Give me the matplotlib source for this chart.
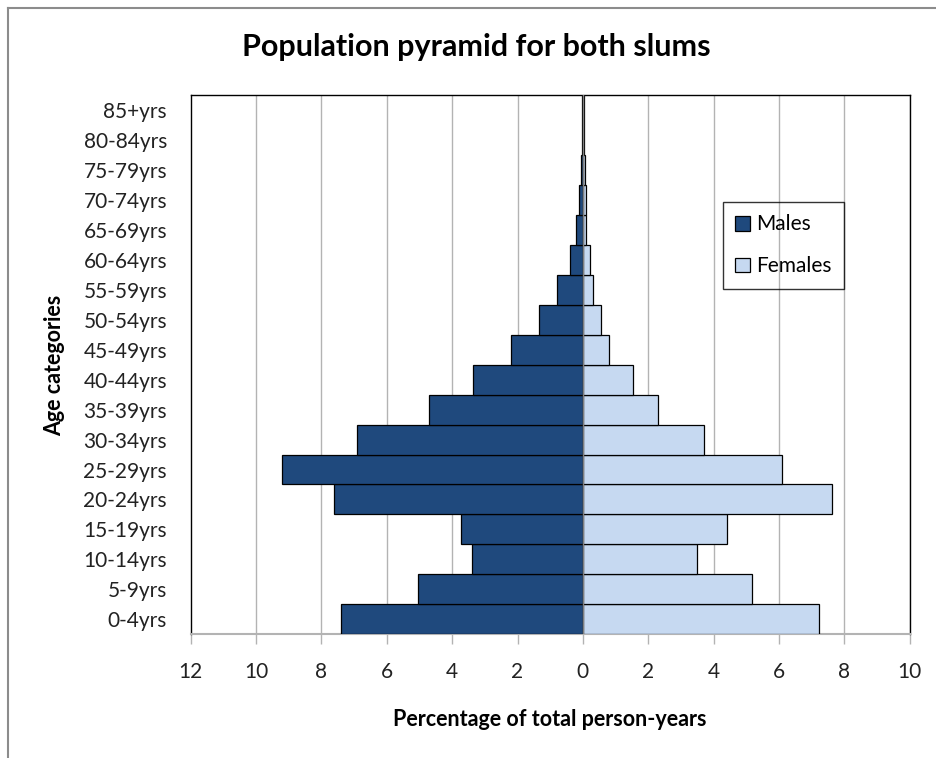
import matplotlib.pyplot as plt
from matplotlib.lines import Line2D
import numpy as np

plt.rcParams['font.family'] = ['Lato', 'DejaVu Sans']

# age groups, youngest first
age_groups = ['0-4yrs', '5-9yrs', '10-14yrs', '15-19yrs', '20-24yrs', '25-29yrs',
              '30-34yrs', '35-39yrs', '40-44yrs', '45-49yrs', '50-54yrs', '55-59yrs',
              '60-64yrs', '65-69yrs', '70-74yrs', '75-79yrs', '80-84yrs', '85+yrs']

# percentage of total person-years
males = [7.39, 5.05, 3.38, 3.72, 7.63, 9.20, 6.90, 4.70, 3.35, 2.20,
         1.35, 0.80, 0.38, 0.20, 0.11, 0.07, 0.04, 0.03]
females = [7.22, 5.17, 3.49, 4.40, 7.61, 6.10, 3.70, 2.30, 1.53, 0.80,
           0.56, 0.31, 0.21, 0.11, 0.09, 0.06, 0.04, 0.02]

x_ticks = [-12, -10, -8, -6, -4, -2, 0, 2, 4, 6, 8, 10]

male_color = '#1F497D'
female_color = '#C6D9F1'
grid_color = '#B3B3B3'

fig = plt.figure(figsize=(9.37, 7.58), dpi=100)
ax = fig.add_axes([190.7 / 937, 1 - 634.3 / 758, 719.0 / 937, 539.3 / 758])

y = np.arange(len(age_groups))
ax.barh(y, -np.array(males), height=1.0, color=male_color, edgecolor='black',
        linewidth=0.9, label='Males', zorder=3)
ax.barh(y, females, height=1.0, color=female_color, edgecolor='black',
        linewidth=0.9, label='Females', zorder=3)

ax.set_xlim(-12, 10)
ax.set_ylim(-0.5, len(age_groups) - 0.5)

# vertical gridlines
for t in x_ticks[1:]:
    ax.axvline(t, color=grid_color, linewidth=1.0, zorder=1)
# category axis crosses at zero
ax.axvline(0, color='#7F7F7F', linewidth=1.0, zorder=4)

ax.set_xticks(x_ticks)
ax.set_xticklabels([str(abs(t)) for t in x_ticks], fontsize=15, color='#222222')
ax.set_yticks(y)
ax.set_yticklabels(age_groups, fontsize=15, color='#222222')
ax.tick_params(axis='y', length=0, pad=17)
ax.tick_params(axis='x', length=7, width=1.0, color=grid_color, direction='out', pad=13)

for side in ['top', 'left', 'right']:
    ax.spines[side].set_color('black')
    ax.spines[side].set_linewidth(1.0)
ax.spines['bottom'].set_color(grid_color)
ax.spines['bottom'].set_linewidth(1.5)

fig.text(476 / 937, 1 - 47 / 758, 'Population pyramid for both slums',
         fontsize=22, fontweight='bold', ha='center', va='center')
fig.text(550 / 937, 1 - 720 / 758, 'Percentage of total person-years',
         fontsize=15.5, fontweight='bold', ha='center', va='center')
fig.text(55 / 937, 1 - 365 / 758, 'Age categories', rotation=90,
         fontsize=15.5, fontweight='bold', ha='center', va='center')

leg = ax.legend(loc='upper left', bbox_to_anchor=(723 / 937, 1 - 202 / 758),
                bbox_transform=fig.transFigure, fontsize=15, frameon=True,
                fancybox=False, edgecolor='black', facecolor='none',
                borderaxespad=0, handlelength=0.7, handleheight=0.7,
                handletextpad=0.3, labelspacing=1.05, borderpad=0.6)
leg.get_frame().set_linewidth(1.0)

# outer chart frame
fig.add_artist(Line2D([8 / 937, 1], [1 - 8 / 758, 1 - 8 / 758],
                      transform=fig.transFigure, color='#8C8C8C', linewidth=1.5))
fig.add_artist(Line2D([8 / 937, 8 / 937], [0, 1 - 8 / 758],
                      transform=fig.transFigure, color='#8C8C8C', linewidth=1.5))

fig.savefig('out.png', dpi=100)
